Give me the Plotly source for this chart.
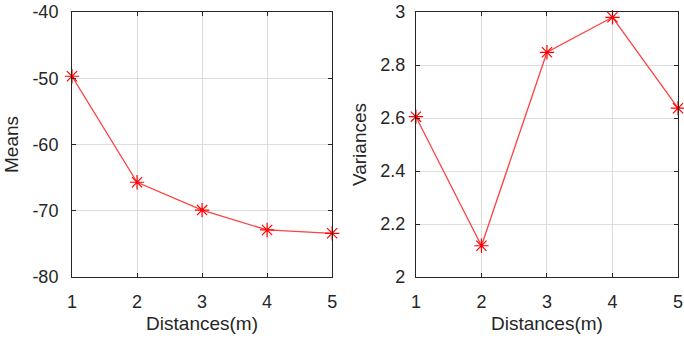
import plotly.graph_objects as go

distances = [1, 2, 3, 4, 5]
means = [-49.7, -65.7, -69.9, -72.9, -73.4]
variances = [2.605, 2.118, 2.848, 2.98, 2.637]

mean_ticks = [-80, -70, -60, -50, -40]
mean_labels = ["-80", "-70", "-60", "-50", "-40"]
var_ticks = [2, 2.2, 2.4, 2.6, 2.8, 3]
var_labels = ["2", "2.2", "2.4", "2.6", "2.8", "3"]
dist_labels = ["1", "2", "3", "4", "5"]

W, H = 684, 340
axcol = "#262626"
font = dict(family="Liberation Sans, Arial, sans-serif", size=18, color=axcol)

fig = go.Figure()
marker = dict(symbol="asterisk-open", size=12, color="red", line=dict(color="red", width=1.2))
fig.add_trace(go.Scatter(x=distances, y=means, mode="lines+markers",
                         line=dict(color="#ff4040", width=1.3), marker=marker,
                         xaxis="x", yaxis="y", cliponaxis=False, showlegend=False))
fig.add_trace(go.Scatter(x=distances, y=variances, mode="lines+markers",
                         line=dict(color="#ff4040", width=1.3), marker=marker,
                         xaxis="x2", yaxis="y2", cliponaxis=False, showlegend=False))

common = dict(showline=True, linecolor=axcol, linewidth=1, mirror="ticks",
              ticks="inside", ticklen=4, tickcolor=axcol, showgrid=True,
              gridcolor="#dedede", gridwidth=1, zeroline=False,
              tickmode="array",
              tickfont=dict(size=18, color=axcol),
              title_font=dict(size=19, color=axcol))

fig.update_layout(
    width=W, height=H, margin=dict(l=0, r=0, t=12, b=63),
    plot_bgcolor="white", paper_bgcolor="white", font=font,
    xaxis=dict(domain=[68/W, 332/W], range=[1, 5], tickvals=distances, ticktext=dist_labels,
               ticklabelstandoff=8,
               title=dict(text="Distances(m)", standoff=6), anchor="y", **common),
    yaxis=dict(range=[-80, -40], tickvals=mean_ticks, ticktext=mean_labels,
               ticklabelstandoff=9,
               title=dict(text="Means", standoff=8), anchor="x", **common),
    xaxis2=dict(domain=[417/W, 683/W], range=[1, 5], tickvals=distances, ticktext=dist_labels,
                ticklabelstandoff=8,
                title=dict(text="Distances(m)", standoff=6), anchor="y2", **common),
    yaxis2=dict(range=[2, 3], tickvals=var_ticks, ticktext=var_labels,
                ticklabelstandoff=6,
                title=dict(text="Variances", standoff=8), anchor="x2", **common),
)

fig.write_html("out.html")
